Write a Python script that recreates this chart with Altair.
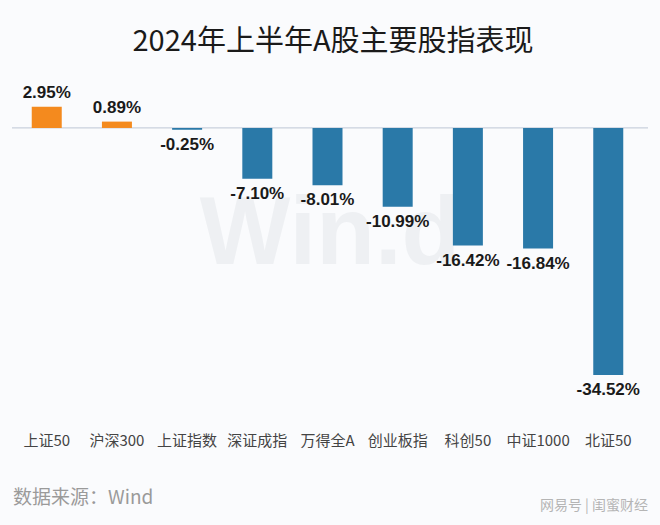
import altair as alt
import pandas as pd

categories = ["上证50", "沪深300", "上证指数", "深证成指", "万得全A", "创业板指", "科创50", "中证1000", "北证50"]
values = [2.95, 0.89, -0.25, -7.10, -8.01, -10.99, -16.42, -16.84, -34.52]

df = pd.DataFrame({"name": categories, "value": values})
df["label"] = df["value"].map(lambda v: f"{v:.2f}%")
df["sign"] = df["value"].map(lambda v: "pos" if v >= 0 else "neg")

W, H = 631, 330
xenc = alt.X("name:N", sort=categories, scale=alt.Scale(paddingInner=0.57, paddingOuter=0.28),
             axis=alt.Axis(title=None, orient="bottom", domain=False, ticks=False, labelAngle=0,
                           labelFont="Noto Sans CJK SC", labelFontSize=15, labelColor="#444444",
                           labelPadding=28))
yscale = alt.Scale(domain=[-38.7, 7.4], nice=False, zero=False)
yenc = alt.Y("value:Q", scale=yscale, axis=None)

base = alt.Chart(df)

zero = alt.Chart(pd.DataFrame({"z": [0]})).mark_rule(color="#c9d1dc", strokeWidth=1.2).encode(
    y=alt.Y("z:Q", scale=yscale, axis=None), x=alt.value(0), x2=alt.value(W + 5))

wm = alt.Chart(pd.DataFrame({"t": ["Win.d"]})).mark_text(
    font="Liberation Sans", fontWeight="bold", fontSize=96, color="#eef0f3", align="center", baseline="middle"
).encode(text="t:N", x=alt.value(318), y=alt.value(160))

bars = base.mark_bar(size=30).encode(
    x=xenc, y=yenc, y2=alt.datum(0),
    color=alt.Color("sign:N", scale=alt.Scale(domain=["pos", "neg"], range=["#f48a1e", "#2a79a8"]), legend=None))

lab_pos = base.transform_filter("datum.value >= 0").mark_text(
    font="Liberation Sans", fontWeight="bold", fontSize=17, color="#1a1a1a", baseline="bottom", dy=-5
).encode(x=xenc, y=yenc, text="label:N")
lab_neg = base.transform_filter("datum.value < 0").mark_text(
    font="Liberation Sans", fontWeight="bold", fontSize=17, color="#1a1a1a", baseline="top", dy=7
).encode(x=xenc, y=yenc, text="label:N")

title = alt.Chart(pd.DataFrame({"t": ["2024年上半年A股主要股指表现"]})).mark_text(
    font="Noto Sans CJK SC", fontSize=29, color="#1a1a1a", align="center", baseline="middle"
).encode(text="t:N", x=alt.value(321), y=alt.value(-33))

source = alt.Chart(pd.DataFrame({"t": ["数据来源：Wind"]})).mark_text(
    font="Noto Sans CJK SC", fontSize=19, color="#9a9a9a", align="left", baseline="middle"
).encode(text="t:N", x=alt.value(1), y=alt.value(423))

brand = alt.Chart(pd.DataFrame({"t": ["网易号 | 闺蜜财经"]})).mark_text(
    font="Noto Sans CJK SC", fontSize=14, color="#b5b5b5", align="right", baseline="middle"
).encode(text="t:N", x=alt.value(636), y=alt.value(431))

chart = alt.layer(wm, zero, bars, lab_pos, lab_neg, title, source, brand).properties(
    width=W, height=H, autosize=alt.AutoSizeParams(type="none"),
    padding={"left": 12, "top": 75, "right": 17, "bottom": 120},
    background="#fafbfd"
).configure_view(stroke=None)

chart.save("out.html", embed_options={"renderer": "svg", "actions": False})
